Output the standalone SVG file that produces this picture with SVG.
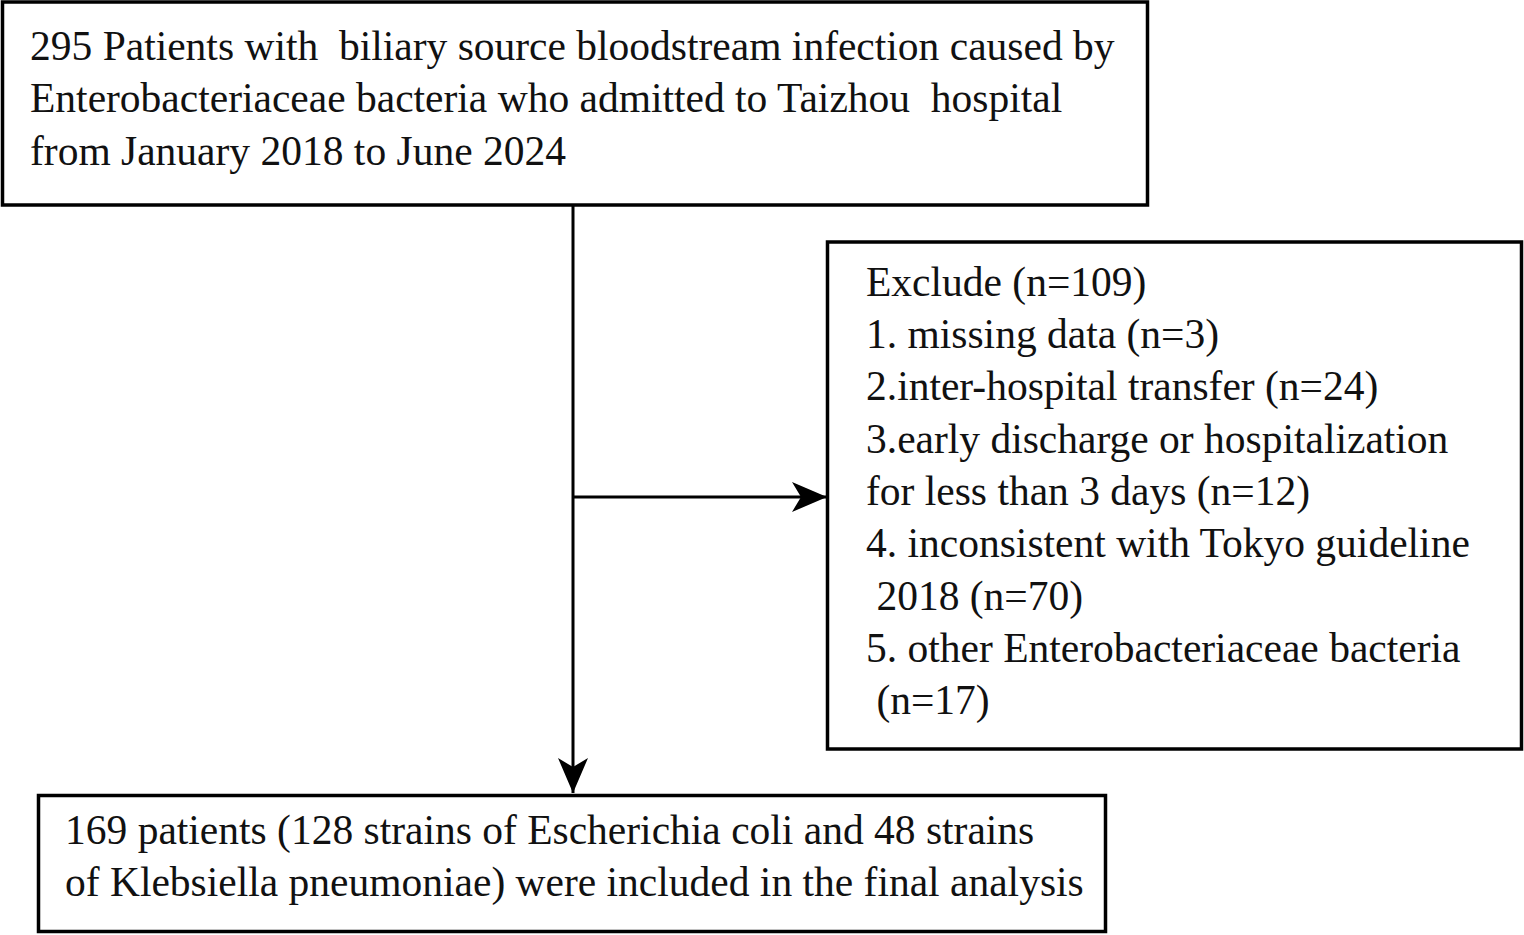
<svg xmlns="http://www.w3.org/2000/svg" width="1524" height="935" viewBox="0 0 1524 935" xml:space="preserve">
<style>
.box{fill:#fff;stroke:#000;stroke-width:3.5}
.t{font-family:"Liberation Serif","DejaVu Serif",serif;font-size:41.5px;fill:#111;white-space:pre}
.ln{stroke:#000;stroke-width:3;fill:none}
</style>
<defs>
<marker id="ah" markerWidth="36" markerHeight="32" refX="35" refY="16" orient="auto" markerUnits="userSpaceOnUse">
<path d="M0,1 L35,16 L0,31 L9,16 Z" fill="#000"/>
</marker>
</defs>
<rect width="1524" height="935" fill="#fff"/>
<g id="connectors">
<line class="ln" x1="573" y1="205" x2="573" y2="793" marker-end="url(#ah)"/>
<line class="ln" x1="573" y1="497" x2="827" y2="497" marker-end="url(#ah)"/>
</g>
<g id="n1">
<rect class="box" x="2.5" y="2" width="1145" height="203"/>
<text class="t" x="30" y="60">295 Patients with  biliary source bloodstream infection caused by</text>
<text class="t" x="30" y="112">Enterobacteriaceae bacteria who admitted to Taizhou  hospital</text>
<text class="t" x="30" y="165">from January 2018 to June 2024</text>
</g>
<g id="n2">
<rect class="box" x="827.5" y="242" width="694" height="507"/>
<text class="t" x="866" y="296">Exclude (n=109)</text>
<text class="t" x="866" y="348">1. missing data (n=3)</text>
<text class="t" x="866" y="400">2.inter-hospital transfer (n=24)</text>
<text class="t" x="866" y="453">3.early discharge or hospitalization</text>
<text class="t" x="866" y="505">for less than 3 days (n=12)</text>
<text class="t" x="866" y="557">4. inconsistent with Tokyo guideline</text>
<text class="t" x="866" y="610"> 2018 (n=70)</text>
<text class="t" x="866" y="662">5. other Enterobacteriaceae bacteria</text>
<text class="t" x="866" y="714"> (n=17)</text>
</g>
<g id="n3">
<rect class="box" x="38.5" y="795.5" width="1067" height="136"/>
<text class="t" x="65" y="844">169 patients (128 strains of Escherichia coli and 48 strains</text>
<text class="t" x="65" y="896">of Klebsiella pneumoniae) were included in the final analysis</text>
</g>
</svg>
